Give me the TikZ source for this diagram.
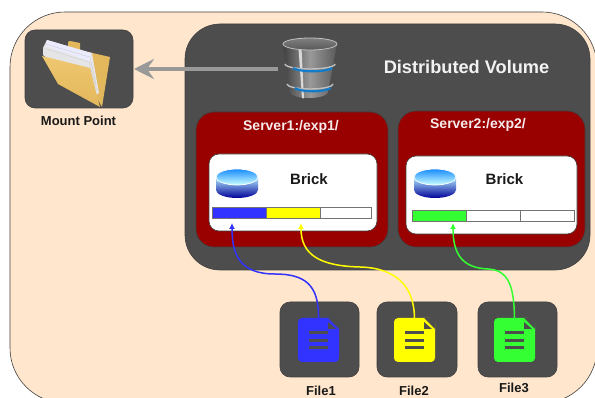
\documentclass[tikz,border=0pt]{standalone}
\usepackage{fontspec}
\usepackage{amsmath}
\setmainfont{Liberation Sans}
\usetikzlibrary{arrows.meta}

\definecolor{peach}{HTML}{FFE6CC}
\definecolor{boxgray}{HTML}{4D4D4D}
\definecolor{serverred}{HTML}{990000}
\definecolor{fileblue}{HTML}{3333FF}
\definecolor{fileyellow}{HTML}{FFFF00}
\definecolor{filegreen}{HTML}{33FF33}
\definecolor{folderfront}{HTML}{EFC76F}
\definecolor{folderback}{HTML}{E3B75C}

\tikzset{
    box/.style={draw=black!75,line width=.6pt,inner sep=0pt,outer sep=0pt},
    filebox/.style={box,fill=boxgray,rounded corners=10pt,minimum width=79pt,minimum height=75pt},
    serverbox/.style={box,fill=serverred,rounded corners=18pt},
    brickbox/.style={box,fill=white,rounded corners=10pt},
    slot/.style={draw=black!55,line width=.9pt,fill=white,inner sep=0pt,outer sep=0pt,minimum width=54pt,minimum height=11pt},
    docbody/.style={inner sep=0pt,outer sep=0pt,rounded corners=4pt,minimum width=41pt,minimum height=44pt},
    lightlabel/.style={text=white!92!serverred,font=\bfseries\fontsize{14}{14}\selectfont},
    darklabel/.style={text=black!90,font=\bfseries\fontsize{13}{13}\selectfont},
    bricklabel/.style={darklabel,font=\bfseries\fontsize{15}{15}\selectfont},
    wire/.style={line width=1.5pt,-{Latex[length=6pt,width=6pt]}},
}

% small disk on a brick, #1 = centre of its top face
\newcommand{\brickdisk}[1]{
    \begin{scope}[shift={#1}]
        \path[top color=blue!25!cyan!30!white,bottom color=blue!60!black]
            (-21,0) -- (-21,13) arc[start angle=180,end angle=360,x radius=21,y radius=-8] -- (21,0) -- cycle;
        \path[top color=cyan!50!blue!90!white,bottom color=cyan!20,draw=white,line width=.7pt]
            (0,0) ellipse[x radius=21,y radius=8];
    \end{scope}
}

% lines and folded corner of a file icon, #1 = its node
\newcommand{\docmarks}[1]{
    \fill[boxgray] ([xshift=-11pt]#1.north east) -- ([xshift=1pt,yshift=1pt]#1.north east) -- ([yshift=-11pt]#1.north east) -- cycle;
    \fill[boxgray] ([xshift=-11pt,yshift=-4pt]#1.north east) -- ([xshift=-3pt,yshift=-11pt]#1.north east) -- ([xshift=-11pt,yshift=-11pt]#1.north east) -- cycle;
    \foreach \dy in {15,22.5,30}
        \draw[boxgray,line width=3pt] ([xshift=-9.5pt,yshift=-\dy pt]#1.north) -- ([xshift=9.5pt,yshift=-\dy pt]#1.north);
}

\begin{document}
\begin{tikzpicture}[x=1pt,y=-1pt]
            \useasboundingbox (0,0) rectangle (595,398);
            \clip (0,0) rectangle (595,398);

            \coordinate (tipblue) at (232,223);
            \coordinate (tipyellow) at (301,223);
            \coordinate (tipgreen) at (453,223);

            % background boxes
            \draw[box,fill=peach,rounded corners=55pt] (10,12) rectangle (597,403);
            \node[box,fill=boxgray,rounded corners=35pt,minimum width=405pt,minimum height=246pt] (volume) at (387.5,147) {};
            \node[filebox,minimum width=108pt,minimum height=78pt] (mount) at (79,69) {};
            \node[serverbox,minimum width=192pt,minimum height=135pt] (server1) at (292,179.5) {};
            \node[serverbox,minimum width=187pt,minimum height=136pt] (server2) at (491.5,179) {};
            \node[brickbox,minimum width=168pt,minimum height=77pt] (brick1) at (293,192.5) {};
            \node[brickbox,minimum width=171pt,minimum height=78pt] (brick2) at (491.5,195) {};

            % slots
            \node[slot,fill=fileblue] (slot1) at (239,212.5) {};
            \node[slot,fill=fileyellow] (slot2) at (293,212.5) {};
            \node[slot,minimum width=51pt] (slot3) at (345.5,212.5) {};
            \node[slot,fill=filegreen] (slot4) at (439,215.5) {};
            \node[slot] (slot5) at (493,215.5) {};
            \node[slot] (slot6) at (547,215.5) {};

            \brickdisk{(237,177)}
            \brickdisk{(435,177)}

            % files
            \node[filebox] (box1) at (319.5,339.5) {};
            \node[filebox,minimum width=80pt] (box2) at (417,339.5) {};
            \node[filebox] (box3) at (517.5,339.5) {};
            \node[docbody,fill=fileblue] (doc1) at (318.5,340) {};
            \node[docbody,fill=fileyellow] (doc2) at (414.5,340) {};
            \node[docbody,fill=filegreen] (doc3) at (514.5,340) {};
            \docmarks{doc1}
            \docmarks{doc2}
            \docmarks{doc3}

            % folder
            \fill[folderback] (68,42) -- (70,41) -- (80,43) -- (80,50) -- (68,50) -- cycle;
            \fill[folderback] (88,52) -- (110,57) -- (102,107) -- (92,90) -- cycle;
            \fill[blue!6!black!10!white] (47,40) -- (92,53) -- (99,93) -- (96,95) -- (43,55) -- (43,48) -- cycle;
            \fill[white!92!blue] (47,40) -- (90,53) -- (92,62) -- (46,46) -- cycle;
            \draw[black!18,line width=.5pt] (43,48) -- (89,62) -- (97,91) (45,44) -- (90,57) -- (96,84);
            \path[top color=folderfront,bottom color=folderback] (42,56) -- (90,68) -- (96,92) -- (100,107) -- (58,84) -- cycle;

            % database
            \node[inner sep=0pt,outer sep=0pt,minimum width=56pt,minimum height=62pt] (db) at (310,68) {};
            \path[left color=black!75,right color=black!65,middle color=black!40]
                (283,44) -- (290,92) arc[start angle=180,end angle=360,x radius=19,y radius=-6] -- (337,44) -- cycle;
            \fill[white!85!black] (298.5,48) -- (302,98) -- (304,98.5) -- (301.5,48) -- cycle;
            \path[top color=black!50,bottom color=black!65,draw=black!25,line width=.8pt]
                (310,44) ellipse[x radius=27,y radius=6];
            \foreach \by/\rx in {65/25,85/23} {
                \draw[black!25,line width=1.4pt] (310-\rx,\by-1) arc[start angle=180,end angle=360,x radius=\rx,y radius=-5];
                \draw[cyan!60!blue,line width=2.2pt] (310-\rx+8,\by+3) arc[start angle=200,end angle=340,x radius=\rx-4,y radius=-5];
            }

            % connectors
            \draw[-{Stealth[length=20pt,width=20pt,inset=7pt]},line width=4.5pt,black!40,shorten <=4pt,shorten >=1pt] (db.west |- 0,69) -- (mount.east |- 0,69);
            \draw[wire,fileblue] (doc1.north) .. controls (319,285) and (305,274) .. (275,274) .. controls (240,274) and (232,255) .. (tipblue);
            \draw[wire,fileyellow] (doc2.north) .. controls (414,285) and (395,268) .. (360,267) .. controls (320,266) and (301,255) .. (tipyellow);
            \draw[wire,filegreen] (doc3.north) .. controls (514,285) and (508,270) .. (488,269) .. controls (463,268) and (453,255) .. (tipgreen);

            % labels
            \node[text=white!95!black,font=\bfseries\fontsize{18.2}{18}\selectfont] (title) at (466.5,67) {Distributed Volume};
            \node[lightlabel] (name1) at (291,127) {Server1:/exp1/};
            \node[lightlabel] (name2) at (478,125) {Server2:/exp2/};
            \node[bricklabel] (bricklabel1) at (309,179) {Brick};
            \node[bricklabel] (bricklabel2) at (504.5,179) {Brick};
            \node[darklabel] (mountlabel) at (78.5,121) {Mount Point};
            \node[darklabel] (filelabel1) at (321,391) {File1};
            \node[darklabel] (filelabel2) at (414,391) {File2};
            \node[darklabel] (filelabel3) at (514,388) {File3};
        \end{tikzpicture}
\end{document}
